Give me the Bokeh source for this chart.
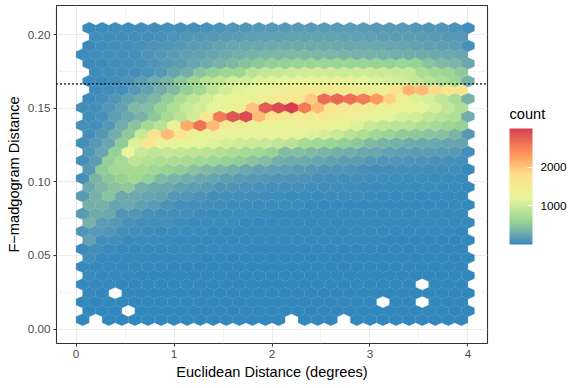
import numpy as np
from bokeh.embed import file_html
from bokeh.resources import INLINE
from bokeh.plotting import figure
from bokeh.models import (ColumnDataSource, LinearColorMapper, ColorBar, FixedTicker, Span,
                          Range1d, LinearAxis)

X_LABEL = "Euclidean Distance (degrees)"
Y_LABEL = "F\u2212madgogram Distance"
LEGEND_TITLE = "count"
LEGEND_TITLE_AT = 0.1463
X_TICKS = [0, 1, 2, 3, 4]
X_MINOR = [0.5, 1.5, 2.5, 3.5]
Y_TICKS = [0.0, 0.05, 0.10, 0.15, 0.20]
Y_MINOR = [0.025, 0.075, 0.125, 0.175]
Y_TICK_LABELS = ["0.00", "0.05", "0.10", "0.15", "0.20"]
LEGEND_TICKS = [1000, 2000]
DOTTED_Y = 0.1667
SPECTRAL = ["#3288BD", "#99D594", "#E6F598", "#FEE08B", "#FC8D59", "#D53E4F"]
N = None

# counts per hexagon row, top row first. Even rows: columns k=1..30, odd rows: k=0..29
r34 = [36,36,42,42,48,54,60,65,71,77,95,107,119,131,143,149,155,155,161,161,155,155,149,149,143,131,119,113,95,48]
r33 = [N,48,48,54,60,71,83,95,119,131,143,155,167,179,190,202,214,214,214,214,208,202,196,190,179,179,167,155,143,131]
r32 = [36,54,60,71,83,95,119,143,167,190,214,238,250,262,274,286,286,286,280,274,268,262,250,238,226,214,202,196,179,83]
r31 = [36,48,60,60,71,95,131,155,190,214,238,274,309,345,369,381,393,393,381,369,357,345,333,321,309,298,286,274,262,238]
r30 = [36,42,48,60,77,107,143,179,238,286,333,393,452,500,559,583,607,619,619,631,619,607,595,583,619,595,476,405,369,262]
r29 = [N,42,48,54,65,89,131,226,298,476,571,643,643,857,928,952,988,1023,1047,1012,1000,1012,1012,988,976,952,738,666,619,524]
r28 = [30,36,48,95,179,274,357,512,643,833,916,1023,1047,1131,1178,1202,1212,1224,1254,1325,1254,1206,1131,1071,1023,928,833,762,643,321]
r27 = [N,42,48,71,131,214,298,405,559,666,881,1047,1166,1206,1254,1402,1461,1491,1550,1521,1461,1431,1402,1372,1758,2133,2074,1836,1698,1640]
r26 = [36,60,119,202,298,381,559,762,893,1035,1178,1254,1313,1343,1461,1550,1610,1955,2669,2704,2633,2550,2312,1919,1343,1131,1071,893,738,333]
r25 = [71,60,119,214,393,417,595,774,952,1047,1190,1253,1343,2014,2788,2907,3000,2550,2074,1669,1580,1521,1432,1343,1313,1253,1190,1071,928,774]
r24 = [48,83,179,262,345,512,714,857,1047,1610,2550,2847,2907,2074,1669,1550,1491,1491,1550,1461,1402,1343,1253,1190,1071,1047,928,833,774,298]
r23 = [83,71,131,298,476,714,833,1284,2193,2609,2074,1491,1372,1313,1284,1284,1343,1372,1343,1284,1224,1131,976,893,857,833,762,714,619,595]
r22 = [60,131,298,512,952,1669,2074,1698,1343,1313,1313,1253,1224,1190,1224,1313,1253,1131,1071,976,833,774,655,595,536,512,476,452,357,143]
r21 = [71,143,238,536,1131,1698,1313,1190,1224,1190,1131,1071,1012,976,952,893,857,714,666,619,559,512,405,357,321,286,262,250,238,226]
r20 = [119,238,571,1224,952,893,952,928,893,857,809,762,714,666,595,417,440,405,357,321,309,262,250,202,179,167,167,155,143,71]
r19 = [60,155,571,714,881,809,774,762,714,666,619,595,547,476,428,309,286,274,238,202,179,167,131,119,107,95,95,83,83,71]
r18 = [143,536,666,714,714,655,595,547,476,393,357,309,250,214,202,179,155,143,119,107,95,83,71,65,60,60,54,54,48,24]
r17 = [71,357,500,595,666,571,405,357,298,262,226,190,155,143,131,107,101,95,83,71,65,60,54,48,42,42,42,36,36,33]
r16 = [274,381,476,512,309,274,262,202,179,155,119,107,89,83,71,65,60,54,48,48,42,36,36,33,33,30,30,26,26,24]
r15 = [155,321,476,262,274,226,214,131,113,95,71,60,60,54,48,42,36,36,33,30,30,26,26,24,24,21,21,21,21,19]
r14 = [321,333,226,262,202,155,95,71,60,60,48,42,36,36,33,30,26,24,24,24,21,21,19,19,18,18,18,18,17,17]
r13 = [155,286,262,107,119,83,65,60,71,42,36,33,30,30,26,24,24,21,21,19,19,18,18,18,17,17,17,17,15,15]
r12 = [333,167,143,83,60,60,80,42,36,33,30,26,24,24,21,21,19,19,18,18,17,17,17,15,15,15,14,14,14,14]
r11 = [107,143,119,60,48,42,36,33,30,26,24,21,21,19,19,18,18,17,17,15,15,14,14,14,14,13,13,13,13,12]
r10 = [202,48,48,36,33,30,26,24,21,21,19,18,18,17,17,15,15,14,14,14,13,13,13,12,12,12,12,12,11,11]
r9 = [30,60,25,22,20,18,16,15,15,14,14,13,13,12,12,11,11,11,10,10,10,10,9,9,9,9,9,8,8,8]
r8 = [60,22,20,18,16,15,14,14,13,12,12,12,11,11,10,10,10,9,9,9,9,8,8,8,8,8,8,7,7,7]
r7 = [20,22,18,16,15,14,13,12,12,11,11,10,10,10,9,9,9,8,8,8,8,8,7,7,7,7,7,7,6,6]
r6 = [25,16,15,14,12,12,11,10,10,10,9,9,9,8,8,8,8,7,7,7,7,7,6,6,6,6,6,6,6,5]
r5 = [14,15,13,12,11,10,10,9,9,9,8,8,8,7,7,7,7,6,6,6,6,6,6,5,5,5,N,5,5,5]
r4 = [14,12,N,10,9,9,8,8,8,7,7,7,7,6,6,6,6,6,5,5,5,5,5,5,5,4,4,4,4,4]
r3 = [9,10,9,8,8,7,7,7,6,6,6,6,6,5,5,5,5,5,5,4,4,4,4,N,4,4,N,4,4,4]
r2 = [8,8,7,N,6,6,6,5,5,5,5,5,4,4,4,4,4,4,4,3,3,3,3,3,3,3,3,3,3,3]
r1 = [3,N,3,3,3,3,2,2,2,2,2,2,2,2,2,2,N,2,2,2,N,2,2,2,2,2,1,1,1,1]

ROWS_BOTTOM_UP = [r1,r2,r3,r4,r5,r6,r7,r8,r9,r10,r11,r12,r13,r14,r15,r16,r17,r18,r19,r20,
                  r21,r22,r23,r24,r25,r26,r27,r28,r29,r30,r31,r32,r33,r34]

# ---- Lab interpolated Spectral, like ggplot's distiller
def _srgb2lab(c):
    rgb = np.array([int(c[i:i+2], 16) for i in (1, 3, 5)]) / 255
    lin = np.where(rgb > 0.04045, ((rgb + 0.055) / 1.055) ** 2.4, rgb / 12.92)
    M = np.array([[0.4124564, 0.3575761, 0.1804375], [0.2126729, 0.7151522, 0.0721750], [0.0193339, 0.1191920, 0.9503041]])
    xyz = M @ lin / np.array([0.95047, 1.0, 1.08883])
    f = np.where(xyz > 216/24389, np.cbrt(xyz), (24389/27 * xyz + 16) / 116)
    return np.array([116*f[1]-16, 500*(f[0]-f[1]), 200*(f[1]-f[2])])

def _lab2hex(l):
    fy = (l[0]+16)/116; fx = l[1]/500+fy; fz = fy-l[2]/200
    f = np.array([fx, fy, fz])
    xyz = np.where(f**3 > 216/24389, f**3, (116*f-16)/(24389/27)) * np.array([0.95047, 1.0, 1.08883])
    Mi = np.linalg.inv(np.array([[0.4124564, 0.3575761, 0.1804375], [0.2126729, 0.7151522, 0.0721750], [0.0193339, 0.1191920, 0.9503041]]))
    lin = np.clip(Mi @ xyz, 0, 1)
    rgb = np.where(lin > 0.0031308, 1.055*lin**(1/2.4)-0.055, 12.92*lin)
    return "#%02X%02X%02X" % tuple(int(round(v*255)) for v in rgb)

labs = np.array([_srgb2lab(c) for c in SPECTRAL])
grid = np.linspace(0, len(SPECTRAL)-1, 256)
palette = [_lab2hex(np.array([np.interp(t, np.arange(len(SPECTRAL)), labs[:, i]) for i in range(3)])) for t in grid]
mapper = LinearColorMapper(palette=palette, low=1, high=3000)

# ---- hexagon geometry
DX = 4 / 30          # centre spacing inside a row
DY = 0.00601         # spacing between rows
Y0 = 0.0063
xs, ys, counts = [], [], []
for i, row in enumerate(ROWS_BOTTOM_UP):
    odd = i % 2 == 0
    for j, v in enumerate(row):
        if v is None:
            continue
        cx = DX * (j + 0.5) if odd else DX * (j + 1)
        cy = Y0 + DY * i
        xs.append([cx, cx + DX/2, cx + DX/2, cx, cx - DX/2, cx - DX/2])
        ys.append([cy + DY*2/3, cy + DY/3, cy - DY/3, cy - DY*2/3, cy - DY/3, cy + DY/3])
        counts.append(v)
src = ColumnDataSource(dict(xs=xs, ys=ys, count=counts))

GREY = "#EBEBEB"
FONT = "Liberation Sans"
p = figure(width=581, height=388, output_backend="svg", toolbar_location=None,
           x_range=Range1d(-0.2, 4.2), y_range=Range1d(-0.00986, 0.22),
           min_border_left=56, min_border_right=94, min_border_top=5, min_border_bottom=45,
           frame_width=431, frame_height=338, x_axis_label=X_LABEL, y_axis_label=Y_LABEL)
p.margin = (0, 0, 0, 0)
p.background_fill_color = "white"
p.outline_line_color = "#333333"
p.outline_line_width = 1.1

fill = {"field": "count", "transform": mapper}
p.patches("xs", "ys", source=src, fill_color=fill, line_color=fill, line_width=0.3)
p.add_layout(Span(location=DOTTED_Y, dimension="width", line_color="black", line_width=1.3,
                  line_dash="1 3", line_cap="round"))

p.xaxis.ticker = FixedTicker(ticks=X_TICKS, minor_ticks=X_MINOR)
p.yaxis.ticker = FixedTicker(ticks=Y_TICKS, minor_ticks=Y_MINOR)
p.yaxis.major_label_overrides = dict(zip(Y_TICKS, Y_TICK_LABELS))
for ax in (p.xaxis[0], p.yaxis[0]):
    ax.axis_line_color = None
    ax.major_tick_line_color = "#333333"
    ax.major_tick_out = 3
    ax.major_tick_in = 0
    ax.minor_tick_line_color = None
    ax.major_label_text_font = FONT
    ax.major_label_text_font_size = "11.7px"
    ax.major_label_text_color = "#4D4D4D"
    ax.major_label_standoff = 2
    ax.axis_label_text_font = FONT
    ax.axis_label_text_font_size = "14.6px"
    ax.axis_label_text_font_style = "normal"
    ax.axis_label_text_color = "black"
    ax.axis_label_standoff = 3
for g in (p.xgrid[0], p.ygrid[0]):
    g.grid_line_color = GREY
    g.grid_line_width = 1.1
    g.minor_grid_line_color = GREY
    g.minor_grid_line_width = 0.55
p.xgrid[0].ticker = p.xaxis[0].ticker
p.ygrid[0].ticker = p.yaxis[0].ticker

# the legend title: a tick label of a bare axis on the right, so it can lie outside the frame
title_axis = LinearAxis(ticker=FixedTicker(ticks=[LEGEND_TITLE_AT], minor_ticks=[]),
                        major_label_overrides={LEGEND_TITLE_AT: LEGEND_TITLE},
                        axis_line_color=None, major_tick_line_color=None, minor_tick_line_color=None,
                        major_tick_in=0, major_tick_out=0, major_label_standoff=22,
                        major_label_text_font=FONT, major_label_text_font_size="14.6px",
                        major_label_text_color="black")
p.add_layout(title_axis, "right")

BAR_X, BAR_Y, BAR_W, BAR_H = 453, 99, 23, 116
cb = ColorBar(color_mapper=mapper, ticker=FixedTicker(ticks=LEGEND_TICKS), width=BAR_W, height=BAR_H,
              location=(BAR_X, BAR_Y), padding=0, orientation="vertical",
              major_label_text_font=FONT, major_label_text_font_size="11.7px",
              major_label_text_color="black", label_standoff=8, major_tick_line_color="white",
              major_tick_in=5, minor_tick_line_color=None, bar_line_color=None, border_line_color=None,
              background_fill_alpha=0)
p.add_layout(cb)

open("out.html", "w").write(file_html(p, INLINE))
